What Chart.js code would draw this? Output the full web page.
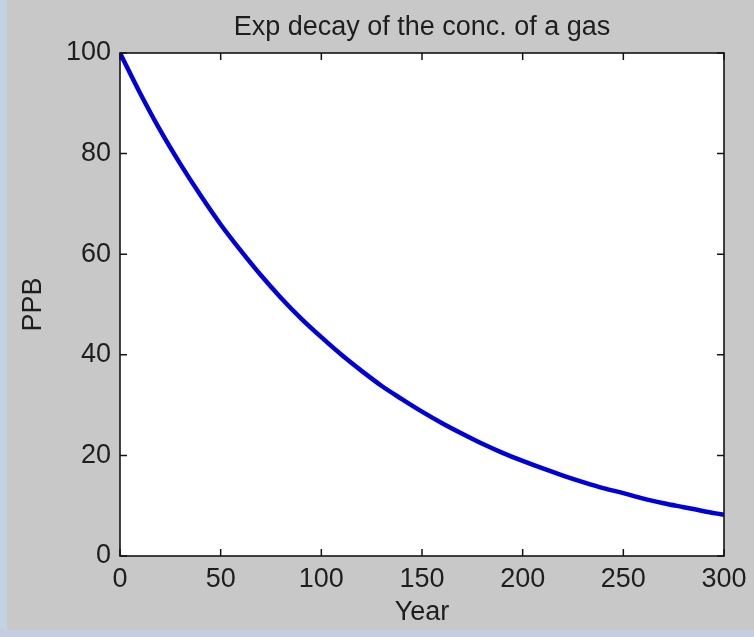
<!DOCTYPE html>
<html>
<head>
<meta charset="utf-8">
<script src="https://cdn.jsdelivr.net/npm/chart.js@4/dist/chart.umd.min.js"></script>
<style>
  html, body { margin: 0; padding: 0; background: #c8c8c8; }
  #wrap { position: relative; width: 754px; height: 637px; overflow: hidden; background: #c8c8c8; }
  #lstrip { position: absolute; left: 0; top: 0; width: 7px; height: 637px; background: #c3d2e2; }
  #bstrip { position: absolute; left: 0; top: 630px; width: 754px; height: 7px; background: #c5cde0; }
  canvas { position: absolute; left: 0; top: 0; }
</style>
</head>
<body>
<div id="wrap">
  <div id="lstrip"></div>
  <div id="bstrip"></div>
  <canvas id="c" width="754" height="637"></canvas>
</div>
<script>
// ---- data ----
const chartTitle = "Exp decay of the conc. of a gas";
const xAxisTitle = "Year";
const yAxisTitle = "PPB";
const years = [0, 10, 20, 30, 40, 50, 60, 70, 80, 90, 100, 110, 120, 130, 140, 150,
               160, 170, 180, 190, 200, 210, 220, 230, 240, 250, 260, 270, 280, 290, 300];
const ppb   = [100, 92.0, 84.6, 77.9, 71.7, 65.9, 60.7, 55.8, 51.3, 47.2, 43.5, 40.0, 36.8, 33.8, 31.2, 28.7,
               26.4, 24.3, 22.3, 20.5, 18.9, 17.4, 16.0, 14.7, 13.5, 12.5, 11.4, 10.5, 9.7, 8.9, 8.2];
const xTicks = [0, 50, 100, 150, 200, 250, 300];
const yTicks = [0, 20, 40, 60, 80, 100];

const FONT = "'Liberation Sans', Arial, sans-serif";
const TEXT = '#1e1e1e';
const AXIS = '#141414';

const points = years.map((y, i) => ({ x: y, y: ppb[i] }));

const boxPlugin = {
  id: 'matlabBox',
  beforeDatasetsDraw(chart) {
    const a = chart.chartArea, ctx = chart.ctx;
    ctx.save();
    ctx.fillStyle = '#ffffff';
    ctx.fillRect(a.left, a.top, a.right - a.left, a.bottom - a.top);
    ctx.restore();
  },
  afterDatasetsDraw(chart) {
    const a = chart.chartArea, ctx = chart.ctx;
    const xs = chart.scales.x, ys = chart.scales.y;
    const L = 7;
    ctx.save();
    ctx.strokeStyle = AXIS;
    ctx.lineWidth = 1.5;
    ctx.beginPath();
    xTicks.forEach(v => {
      const px = xs.getPixelForValue(v);
      ctx.moveTo(px, a.bottom); ctx.lineTo(px, a.bottom - L);
      ctx.moveTo(px, a.top); ctx.lineTo(px, a.top + L);
    });
    yTicks.forEach(v => {
      const py = ys.getPixelForValue(v);
      ctx.moveTo(a.left, py); ctx.lineTo(a.left + L, py);
      ctx.moveTo(a.right, py); ctx.lineTo(a.right - L, py);
    });
    ctx.stroke();
    ctx.lineWidth = 1.6;
    ctx.strokeRect(a.left, a.top, a.right - a.left, a.bottom - a.top);
    ctx.restore();
  }
};

new Chart(document.getElementById('c'), {
  type: 'line',
  data: {
    datasets: [{
      data: points,
      borderColor: '#0000dc',
      borderWidth: 4.5,
      pointRadius: 0,
      fill: false,
      cubicInterpolationMode: 'monotone'
    }]
  },
  options: {
    responsive: false,
    animation: false,
    devicePixelRatio: 1,
    layout: { padding: { left: 0, top: 0, right: 30, bottom: 0 } },
    plugins: {
      legend: { display: false },
      tooltip: { enabled: false },
      title: {
        display: true,
        fullSize: false,
        text: chartTitle,
        color: TEXT,
        font: { family: FONT, size: 27, weight: 'normal' },
        padding: { top: 11.8, bottom: 8.8 }
      }
    },
    scales: {
      x: {
        type: 'linear',
        min: 0, max: 300,
        afterFit(s) { s.height = 81; },
        afterBuildTicks(s) { s.ticks = xTicks.map(v => ({ value: v })); },
        grid: { display: false, drawTicks: false },
        border: { display: false },
        ticks: { color: TEXT, font: { family: FONT, size: 27 }, padding: 7, maxRotation: 0 },
        title: { display: true, text: xAxisTitle, color: TEXT, font: { family: FONT, size: 27 }, padding: { top: 0, bottom: 8 } }
      },
      y: {
        type: 'linear',
        min: 0, max: 100,
        afterFit(s) { s.width = 120; },
        afterBuildTicks(s) { s.ticks = yTicks.map(v => ({ value: v })); },
        grid: { display: false, drawTicks: false },
        border: { display: false },
        ticks: { color: TEXT, font: { family: FONT, size: 27 }, padding: 9 },
        title: { display: true, text: yAxisTitle, color: TEXT, font: { family: FONT, size: 27 }, padding: { top: 17, bottom: 0 } }
      }
    }
  },
  plugins: [boxPlugin]
});
</script>
</body>
</html>
